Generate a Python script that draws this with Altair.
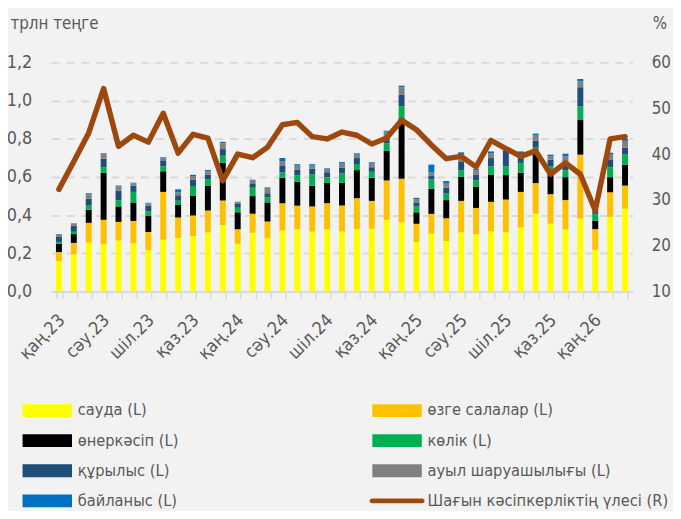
import altair as alt
import pandas as pd

FONT = "DejaVu Sans Condensed, Roboto, DejaVu Sans"
GREY_TXT = "#595959"

periods = [
    "қаң.23", "ақп.23", "нау.23", "сәу.23", "мам.23", "мау.23", "шіл.23", "там.23", "қыр.23", "қаз.23", "қар.23", "жел.23",
    "қаң.24", "ақп.24", "нау.24", "сәу.24", "мам.24", "мау.24", "шіл.24", "там.24", "қыр.24", "қаз.24", "қар.24", "жел.24",
    "қаң.25", "ақп.25", "нау.25", "сәу.25", "мам.25", "мау.25", "шіл.25", "там.25", "қыр.25", "қаз.25", "қар.25", "жел.25",
    "қаң.26", "ақп.26", "нау.26",
]

series_names = [
    "сауда (L)", "өзге салалар (L)", "өнеркәсіп (L)", "көлік (L)",
    "құрылыс (L)", "ауыл шаруашылығы (L)", "байланыс (L)",
]
line_name = "Шағын кәсіпкерліктің үлесі (R)"
colors = ["#FFFF00", "#FFC000", "#000000", "#00B050", "#1F4E79", "#808080", "#0070C0", "#9E480E"]

trade = [0.160, 0.195, 0.257, 0.248, 0.267, 0.253, 0.217, 0.272, 0.281, 0.291, 0.310, 0.348,
         0.250, 0.308, 0.279, 0.320, 0.327, 0.315, 0.327, 0.315, 0.327, 0.329, 0.376, 0.363,
         0.260, 0.303, 0.265, 0.310, 0.300, 0.315, 0.310, 0.336, 0.408, 0.355, 0.326, 0.382,
         0.219, 0.391, 0.434]
other = [0.047, 0.060, 0.103, 0.128, 0.098, 0.117, 0.095, 0.250, 0.107, 0.107, 0.114, 0.129,
         0.076, 0.100, 0.088, 0.142, 0.123, 0.131, 0.136, 0.136, 0.162, 0.146, 0.206, 0.228,
         0.095, 0.104, 0.119, 0.165, 0.138, 0.155, 0.172, 0.186, 0.160, 0.155, 0.153, 0.335,
         0.108, 0.129, 0.121]
industry = [0.044, 0.046, 0.069, 0.246, 0.081, 0.097, 0.084, 0.108, 0.065, 0.105, 0.131, 0.197,
            0.089, 0.092, 0.100, 0.134, 0.125, 0.109, 0.107, 0.119, 0.147, 0.121, 0.155, 0.315,
            0.060, 0.132, 0.095, 0.126, 0.110, 0.143, 0.128, 0.100, 0.152, 0.129, 0.120, 0.184,
            0.045, 0.079, 0.110]
transport = [0.009, 0.012, 0.021, 0.029, 0.033, 0.055, 0.024, 0.025, 0.022, 0.050, 0.032, 0.037,
             0.024, 0.044, 0.026, 0.029, 0.033, 0.060, 0.029, 0.048, 0.032, 0.031, 0.040, 0.064,
             0.031, 0.048, 0.034, 0.035, 0.034, 0.043, 0.045, 0.052, 0.034, 0.017, 0.037, 0.069,
             0.035, 0.052, 0.053]
construction = [0.026, 0.031, 0.037, 0.045, 0.050, 0.033, 0.031, 0.032, 0.030, 0.034, 0.026, 0.035,
                0.019, 0.023, 0.022, 0.033, 0.029, 0.029, 0.026, 0.030, 0.031, 0.024, 0.034, 0.060,
                0.021, 0.018, 0.031, 0.046, 0.031, 0.043, 0.081, 0.025, 0.035, 0.035, 0.046, 0.100,
                0.013, 0.038, 0.035]
agriculture = [0.010, 0.010, 0.023, 0.024, 0.022, 0.012, 0.011, 0.012, 0.014, 0.018, 0.017, 0.031,
               0.009, 0.015, 0.028, 0.026, 0.025, 0.018, 0.018, 0.026, 0.018, 0.019, 0.026, 0.040,
               0.017, 0.020, 0.021, 0.035, 0.021, 0.026, 0.013, 0.026, 0.028, 0.017, 0.026, 0.031,
               0.005, 0.028, 0.036]
communication = [0.004, 0.003, 0.005, 0.004, 0.004, 0.003, 0.003, 0.004, 0.017, 0.007, 0.006, 0.007,
                 0.003, 0.004, 0.003, 0.015, 0.005, 0.005, 0.003, 0.005, 0.007, 0.007, 0.005, 0.008,
                 0.007, 0.040, 0.014, 0.012, 0.007, 0.009, 0.005, 0.009, 0.010, 0.009, 0.014, 0.012,
                 0.003, 0.010, 0.010]
share = [32.3, 38.4, 44.6, 54.3, 41.7, 44.1, 42.6, 48.9, 40.2, 44.3, 43.5, 34.2,
         40.0, 39.2, 41.5, 46.4, 46.9, 43.8, 43.3, 44.8, 44.1, 42.2, 43.5, 47.4,
         45.3, 42.0, 39.0, 39.5, 37.2, 43.0, 41.2, 39.5, 40.7, 35.6, 38.1, 35.6,
         27.7, 43.3, 43.8]

left_ticks = [0.0, 0.2, 0.4, 0.6, 0.8, 1.0, 1.2]
right_ticks = [10, 20, 30, 40, 50, 60]

series_values = [trade, other, industry, transport, construction, agriculture, communication]
rows = []
for k, (name, vals) in enumerate(zip(series_names, series_values)):
    for p, v in zip(periods, vals):
        rows.append({"period": p, "series": name, "value": v, "order": k})
bars_df = pd.DataFrame(rows)
line_df = pd.DataFrame({"period": periods, "series": line_name, "share": share})

BAR_PATH = "M-3.85,-1H3.85V1H-3.85Z"
LINE_PATH = "M-3.9,-0.38H3.9A0.38,0.38 0 0 1 3.9,0.38H-3.9A0.38,0.38 0 0 1 -3.9,-0.38Z"
shape_expr = "datum.value === '" + line_name + "' ? '" + LINE_PATH + "' : '" + BAR_PATH + "'"

legend = alt.Legend(
    orient="none", legendX=-12.5, legendY=344, columns=2, direction="horizontal",
    title=None, padding=0,
    symbolType={"expr": shape_expr}, symbolSize=169, symbolStrokeWidth=0, symbolOpacity=1,
    labelFont=FONT, labelFontSize=16.5, labelColor=GREY_TXT, labelLimit=400,
    labelOffset=22.5, rowPadding=13.5, columnPadding=192,
)

color = alt.Color(
    "series:N",
    scale=alt.Scale(domain=series_names + [line_name], range=colors),
    legend=legend,
)

x_enc = alt.X(
    "period:N", sort=periods,
    scale=alt.Scale(paddingInner=0.6, paddingOuter=0.3),
    axis=alt.Axis(
        title=None, labelAngle=-45, labelAlign="right", labelBaseline="middle",
        labelPadding=19, labelOffset=3, labelFont=FONT, labelFontSize=18, labelColor=GREY_TXT,
        labelExpr="indexof(['қаң','сәу','шіл','қаз'], substring(datum.label, 0, 3)) >= 0 ? datum.label : ''",
        ticks=True, tickBand="extent", tickSize=7, tickColor="#D9D9D9", tickWidth=1.5,
        domain=True, domainColor="#D9D9D9", domainWidth=2, grid=False, labelOverlap=False,
    ),
)

bars = alt.Chart(bars_df).mark_bar().encode(
    x=x_enc,
    y=alt.Y(
        "value:Q", stack="zero",
        scale=alt.Scale(domain=[0, 1.2], nice=False, zero=True),
        axis=alt.Axis(
            values=left_ticks, title="трлн теңге", titleAngle=0, titleX=-42, titleY=-39,
            titleAlign="left", titleBaseline="middle", titleFont=FONT, titleFontSize=17,
            titleFontWeight="normal", titleColor=GREY_TXT,
            labelExpr="replace(format(datum.value, '.1f'), '.', ',')",
            labelFont=FONT, labelFontSize=18, labelColor=GREY_TXT, labelPadding=20,
            ticks=False, domain=False, grid=True, gridColor="#D9D9D9", gridDash=[8, 7], gridWidth=2,
        ),
    ),
    color=color,
    order=alt.Order("order:Q", sort="ascending"),
)

line = alt.Chart(line_df).mark_line(strokeWidth=5.5, strokeJoin="round", strokeCap="round").encode(
    x=x_enc,
    y=alt.Y(
        "share:Q",
        scale=alt.Scale(domain=[10, 60], nice=False, zero=False),
        axis=alt.Axis(
            orient="right", values=right_ticks, title="%", titleAngle=0, titleX=20, titleY=-39,
            titleAlign="left", titleBaseline="middle", titleFont=FONT, titleFontSize=17,
            titleFontWeight="normal", titleColor=GREY_TXT,
            labelFont=FONT, labelFontSize=17, labelColor=GREY_TXT, labelPadding=19,
            ticks=False, domain=False, grid=False,
        ),
    ),
    color=color,
)

chart = alt.layer(bars, line).resolve_scale(y="independent").properties(
    width=588, height=232,
    autosize=alt.AutoSizeParams(type="none"),
    padding={"left": 44, "top": 52, "right": 41, "bottom": 219},
    background="#F2F2F2",
).configure_view(stroke=None)

chart.save("out.html", embed_options={"renderer": "svg", "actions": False})
